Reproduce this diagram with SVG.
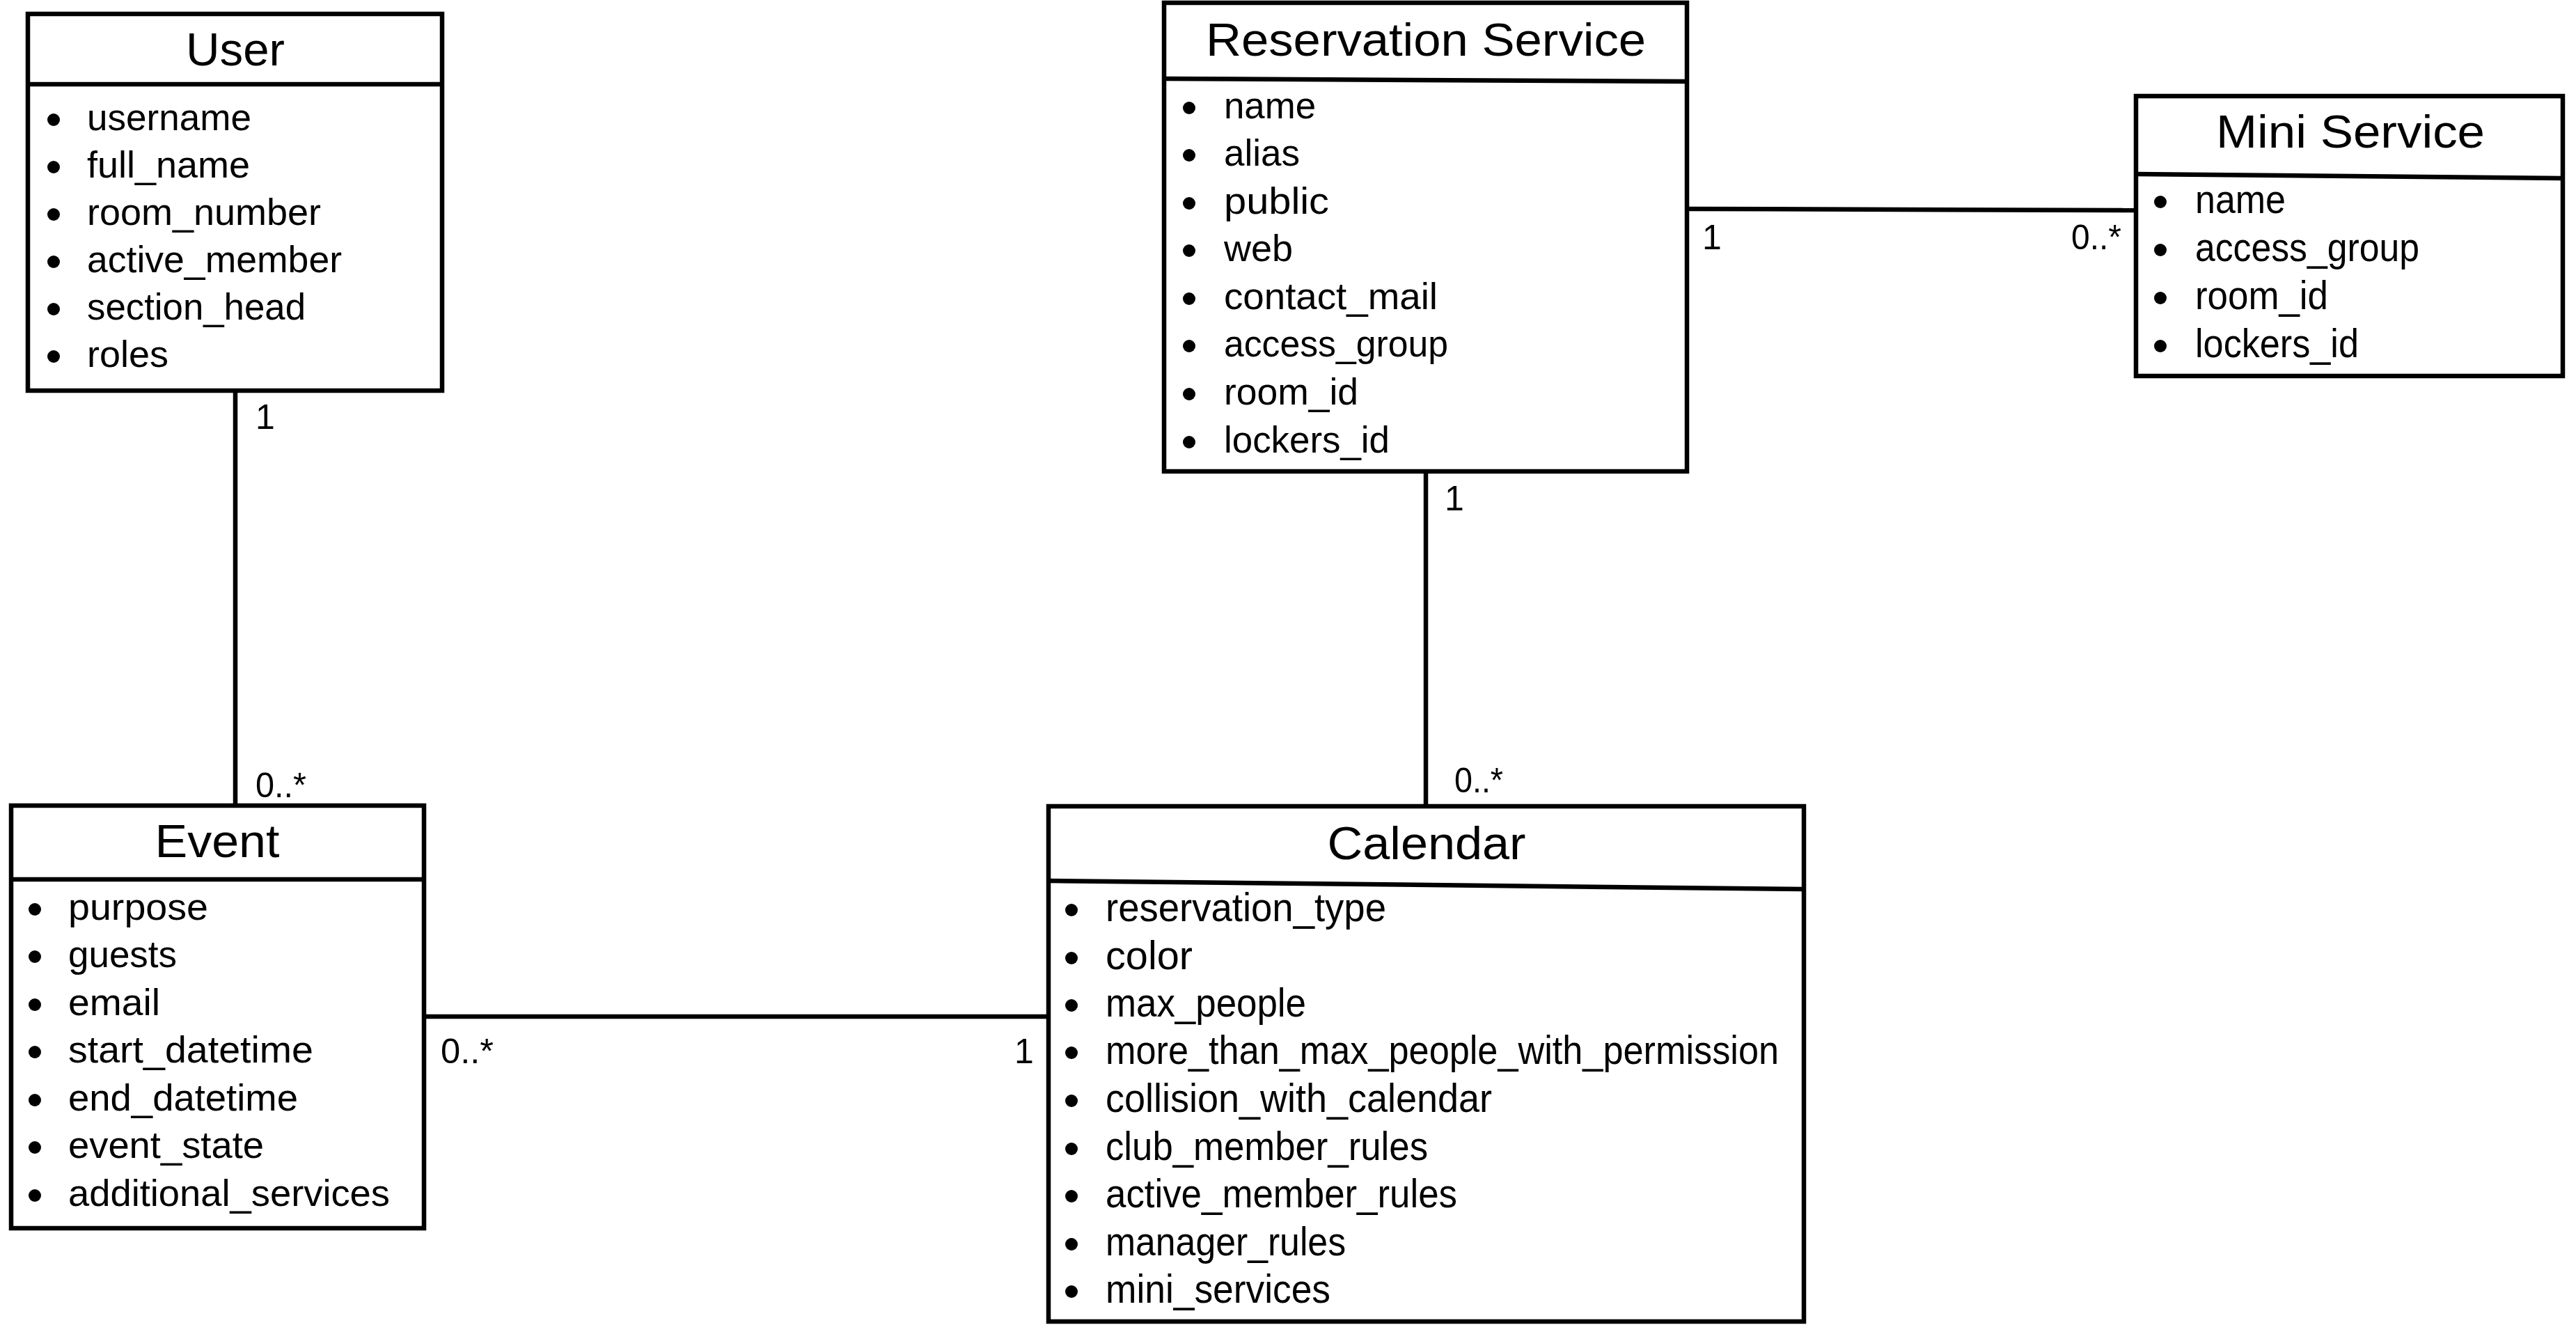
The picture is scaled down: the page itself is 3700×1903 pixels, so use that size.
<svg xmlns="http://www.w3.org/2000/svg" width="3700" height="1903" viewBox="0 0 3700 1903">
<style>
.box{fill:#fff;stroke:#000;stroke-width:6.5}
.div{stroke:#000;stroke-width:6.5;fill:none}
.conn{stroke:#000;stroke-width:6.5;fill:none}
.title{font-family:"Liberation Sans",Arial,sans-serif;font-size:66px;fill:#000;text-anchor:middle}
.item{font-family:"Liberation Sans",Arial,sans-serif;font-size:53px;fill:#000}
.cond{font-size:57px}
.lbl{font-family:"Liberation Sans",Arial,sans-serif;font-size:50px;fill:#000}
.dot{fill:#000}
</style>
<rect width="3700" height="1903" fill="#fff"/>
<g id="connectors">
<line class="conn" x1="338" y1="561" x2="338" y2="1157"/>
<line class="conn" x1="2048" y1="677" x2="2048" y2="1158"/>
<line class="conn" x1="609" y1="1460" x2="1506" y2="1460"/>
<line class="conn" x1="2423" y1="300" x2="3068" y2="302"/>
<text class="lbl" x="367" y="616">1</text>
<text class="lbl" x="367" y="1145" textLength="73" lengthAdjust="spacingAndGlyphs">0..*</text>
<text class="lbl" x="2075" y="733">1</text>
<text class="lbl" x="2089" y="1138" textLength="70" lengthAdjust="spacingAndGlyphs">0..*</text>
<text class="lbl" x="633" y="1527" textLength="76" lengthAdjust="spacingAndGlyphs">0..*</text>
<text class="lbl" x="1457" y="1527">1</text>
<text class="lbl" x="2445" y="358">1</text>
<text class="lbl" x="2975" y="358" textLength="72" lengthAdjust="spacingAndGlyphs">0..*</text>
</g>
<g id="user">
<rect class="box" x="40" y="20" width="595" height="541"/>
<line class="div" x1="40" y1="121" x2="635" y2="121"/>
<text class="title" x="338" y="94" textLength="142" lengthAdjust="spacingAndGlyphs">User</text>
<g class="dot"><circle cx="77" cy="172" r="9"/><circle cx="77" cy="240" r="9"/><circle cx="77" cy="308" r="9"/><circle cx="77" cy="376" r="9"/><circle cx="77" cy="444" r="9"/><circle cx="77" cy="512" r="9"/></g>
<text class="item" x="125" y="187" textLength="236" lengthAdjust="spacingAndGlyphs">username</text>
<text class="item" x="125" y="255" textLength="234" lengthAdjust="spacingAndGlyphs">full_name</text>
<text class="item" x="125" y="323" textLength="336" lengthAdjust="spacingAndGlyphs">room_number</text>
<text class="item" x="125" y="391" textLength="366" lengthAdjust="spacingAndGlyphs">active_member</text>
<text class="item" x="125" y="459" textLength="314" lengthAdjust="spacingAndGlyphs">section_head</text>
<text class="item" x="125" y="527" textLength="117" lengthAdjust="spacingAndGlyphs">roles</text>
</g>
<g id="event">
<rect class="box" x="16" y="1157" width="593" height="607"/>
<line class="div" x1="16" y1="1263" x2="609" y2="1263"/>
<text class="title" x="312" y="1231" textLength="179" lengthAdjust="spacingAndGlyphs">Event</text>
<g class="dot"><circle cx="50" cy="1306" r="9"/><circle cx="50" cy="1374" r="9"/><circle cx="50" cy="1443" r="9"/><circle cx="50" cy="1511" r="9"/><circle cx="50" cy="1580" r="9"/><circle cx="50" cy="1648" r="9"/><circle cx="50" cy="1717" r="9"/></g>
<text class="item" x="98" y="1321" textLength="201" lengthAdjust="spacingAndGlyphs">purpose</text>
<text class="item" x="98" y="1389" textLength="156" lengthAdjust="spacingAndGlyphs">guests</text>
<text class="item" x="98" y="1458" textLength="132" lengthAdjust="spacingAndGlyphs">email</text>
<text class="item" x="98" y="1526" textLength="352" lengthAdjust="spacingAndGlyphs">start_datetime</text>
<text class="item" x="98" y="1595" textLength="330" lengthAdjust="spacingAndGlyphs">end_datetime</text>
<text class="item" x="98" y="1663" textLength="281" lengthAdjust="spacingAndGlyphs">event_state</text>
<text class="item" x="98" y="1732" textLength="462" lengthAdjust="spacingAndGlyphs">additional_services</text>
</g>
<g id="calendar">
<rect class="box" x="1506" y="1158" width="1085" height="740"/>
<line class="div" x1="1506" y1="1265" x2="2591" y2="1277"/>
<text class="title" x="2049" y="1234" textLength="285" lengthAdjust="spacingAndGlyphs">Calendar</text>
<g class="dot"><circle cx="1539" cy="1307" r="9"/><circle cx="1539" cy="1376" r="9"/><circle cx="1539" cy="1444" r="9"/><circle cx="1539" cy="1512" r="9"/><circle cx="1539" cy="1581" r="9"/><circle cx="1539" cy="1650" r="9"/><circle cx="1539" cy="1718" r="9"/><circle cx="1539" cy="1787" r="9"/><circle cx="1539" cy="1855" r="9"/></g>
<text class="item cond" x="1588" y="1323" textLength="403" lengthAdjust="spacingAndGlyphs">reservation_type</text>
<text class="item cond" x="1588" y="1392" textLength="125" lengthAdjust="spacingAndGlyphs">color</text>
<text class="item cond" x="1588" y="1460" textLength="288" lengthAdjust="spacingAndGlyphs">max_people</text>
<text class="item cond" x="1588" y="1528" textLength="967" lengthAdjust="spacingAndGlyphs">more_than_max_people_with_permission</text>
<text class="item cond" x="1588" y="1597" textLength="555" lengthAdjust="spacingAndGlyphs">collision_with_calendar</text>
<text class="item cond" x="1588" y="1666" textLength="463" lengthAdjust="spacingAndGlyphs">club_member_rules</text>
<text class="item cond" x="1588" y="1734" textLength="505" lengthAdjust="spacingAndGlyphs">active_member_rules</text>
<text class="item cond" x="1588" y="1803" textLength="345" lengthAdjust="spacingAndGlyphs">manager_rules</text>
<text class="item cond" x="1588" y="1871" textLength="323" lengthAdjust="spacingAndGlyphs">mini_services</text>
</g>
<g id="reservation-service">
<rect class="box" x="1672" y="4" width="751" height="673"/>
<line class="div" x1="1672" y1="113" x2="2423" y2="117"/>
<text class="title" x="2048" y="80" textLength="632" lengthAdjust="spacingAndGlyphs">Reservation Service</text>
<g class="dot"><circle cx="1708" cy="155" r="9"/><circle cx="1708" cy="223" r="9"/><circle cx="1708" cy="292" r="9"/><circle cx="1708" cy="360" r="9"/><circle cx="1708" cy="429" r="9"/><circle cx="1708" cy="497" r="9"/><circle cx="1708" cy="566" r="9"/><circle cx="1708" cy="635" r="9"/></g>
<text class="item" x="1758" y="170" textLength="132" lengthAdjust="spacingAndGlyphs">name</text>
<text class="item" x="1758" y="238" textLength="109" lengthAdjust="spacingAndGlyphs">alias</text>
<text class="item" x="1758" y="307" textLength="151" lengthAdjust="spacingAndGlyphs">public</text>
<text class="item" x="1758" y="375" textLength="99" lengthAdjust="spacingAndGlyphs">web</text>
<text class="item" x="1758" y="444" textLength="307" lengthAdjust="spacingAndGlyphs">contact_mail</text>
<text class="item" x="1758" y="512" textLength="322" lengthAdjust="spacingAndGlyphs">access_group</text>
<text class="item" x="1758" y="581" textLength="193" lengthAdjust="spacingAndGlyphs">room_id</text>
<text class="item" x="1758" y="650" textLength="238" lengthAdjust="spacingAndGlyphs">lockers_id</text>
</g>
<g id="mini-service">
<rect class="box" x="3068" y="138" width="613" height="402"/>
<line class="div" x1="3068" y1="250" x2="3681" y2="256"/>
<text class="title" x="3376" y="212" textLength="386" lengthAdjust="spacingAndGlyphs">Mini Service</text>
<g class="dot"><circle cx="3103" cy="290" r="9"/><circle cx="3103" cy="359" r="9"/><circle cx="3103" cy="428" r="9"/><circle cx="3103" cy="497" r="9"/></g>
<text class="item cond" x="3153" y="306" textLength="130" lengthAdjust="spacingAndGlyphs">name</text>
<text class="item cond" x="3153" y="375" textLength="322" lengthAdjust="spacingAndGlyphs">access_group</text>
<text class="item cond" x="3153" y="444" textLength="191" lengthAdjust="spacingAndGlyphs">room_id</text>
<text class="item cond" x="3153" y="513" textLength="235" lengthAdjust="spacingAndGlyphs">lockers_id</text>
</g>
</svg>
